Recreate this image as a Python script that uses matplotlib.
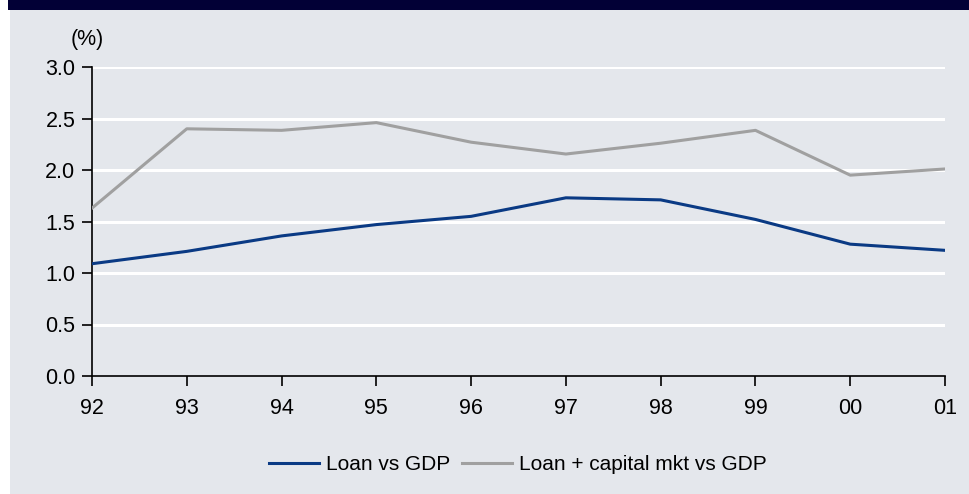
import matplotlib
matplotlib.use("Agg")
import matplotlib.pyplot as plt
from matplotlib.patches import Rectangle

years = ['92', '93', '94', '95', '96', '97', '98', '99', '00', '01']
loan_gdp = [1.09, 1.21, 1.36, 1.47, 1.55, 1.73, 1.71, 1.52, 1.28, 1.22]
loan_cap_gdp = [1.63, 2.40, 2.385, 2.46, 2.27, 2.155, 2.26, 2.385, 1.95, 2.01]
yticks = [0.0, 0.5, 1.0, 1.5, 2.0, 2.5, 3.0]

panel = '#E4E7EC'
plt.rcParams['font.family'] = ['Liberation Sans', 'DejaVu Sans']

fig = plt.figure(figsize=(9.7, 4.94), dpi=100)
fig.patch.set_facecolor('white')
W, H = 970, 494
# grey backdrop and dark header strip
fig.add_artist(Rectangle((10 / W, 0), 1, 1 - 10 / H, transform=fig.transFigure,
                         facecolor=panel, edgecolor='none', zorder=0))
fig.add_artist(Rectangle((8 / W, 1 - 10 / H), 1, 10 / H, transform=fig.transFigure,
                         facecolor='#020036', edgecolor='none', zorder=0))

ax = fig.add_axes([92 / W, 1 - 376 / H, (945 - 92) / W, (376 - 67) / H])
ax.set_facecolor(panel)
x = list(range(len(years)))
ax.plot(x, loan_gdp, color='#0A3A84', lw=2.2, label='Loan vs GDP', zorder=3)
ax.plot(x, loan_cap_gdp, color='#A0A0A0', lw=2.2, label='Loan + capital mkt vs GDP', zorder=3)

ax.set_xlim(0, len(years) - 1)
ax.set_ylim(0, 3.0)
ax.set_xticks(x)
ax.set_xticklabels(years)
ax.set_yticks(yticks)
ax.set_yticklabels([f'{v:.1f}' for v in yticks])
for v in yticks[1:]:
    ax.axhline(v, color='white', lw=2.2, zorder=1)

for s in ['top', 'right']:
    ax.spines[s].set_visible(False)
for s in ['left', 'bottom']:
    ax.spines[s].set_color('black')
    ax.spines[s].set_linewidth(1.2)
ax.tick_params(axis='both', direction='out', length=7, width=1.2, labelsize=15.5,
               colors='black', labelcolor='black')
ax.tick_params(axis='x', pad=8.5)
ax.tick_params(axis='y', pad=5)

fig.text(87.5 / W, 1 - 39 / H, '(%)', fontsize=15.5, ha='center', va='center')

# legend centred under the plotting area
ax.legend(loc='center', bbox_to_anchor=(518 / W, 1 - 465 / H),
          bbox_transform=fig.transFigure, ncol=2, frameon=False,
          fontsize=15, handlelength=2.4, handletextpad=0.3, columnspacing=0.6)

fig.savefig('out.png', dpi=100, facecolor=fig.get_facecolor())
